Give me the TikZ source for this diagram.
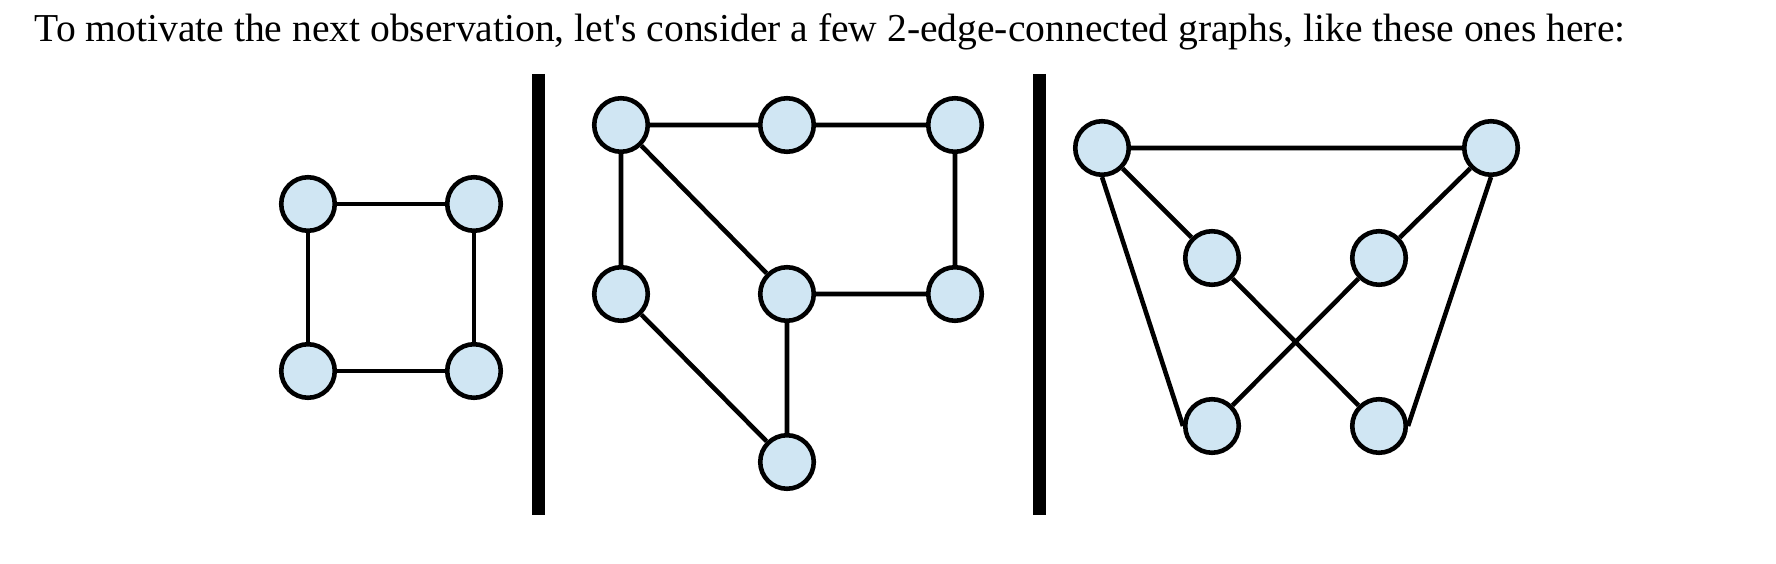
\documentclass[tikz,border=0pt]{standalone}
\usepackage{fontspec}
\setmainfont{Liberation Serif}
\usepackage{tikz}
\definecolor{pale blue}{RGB}{208, 230, 243}

\begin{document}
\begin{tikzpicture}[x = 0.01cm, y = -0.01cm,
		vertex/.style = {circle, draw, fill = pale blue, line width = 1.3pt,
			inner sep = 0pt, minimum size = 0.535cm},
		divider/.style = {line width = 3.7pt}]
		\useasboundingbox (0, 0) rectangle (1776, 564);
		% caption
		\node (caption) [anchor = base west, inner sep = 0pt, font = \fontsize{11.25}{13.5}\selectfont]
			at (34, 42) {To motivate the next observation, let\textquotesingle s consider a few 2-edge-connected graphs, like these ones here:};
		% square
		\node[vertex] (a1) at (308, 204) {};
		\node[vertex] (a2) at (474, 204) {};
		\node[vertex] (a3) at (308, 371) {};
		\node[vertex] (a4) at (474, 371) {};
		\draw[line width = 1.3pt]
			(a1) -- (a2) (a3) -- (a4)
			(a1) -- (a3) (a2) -- (a4);
		% dividers
		\coordinate (d1top) at (538.5, 74);
		\coordinate (d1bot) at (538.5, 515);
		\coordinate (d2top) at (1039, 74);
		\coordinate (d2bot) at (1039, 515);
		\draw[divider] (d1top) -- (d1bot);
		\draw[divider] (d2top) -- (d2bot);
		% middle graph
		\node[vertex] (b1) at (621, 125) {};
		\node[vertex] (b2) at (787, 125) {};
		\node[vertex] (b3) at (955, 125) {};
		\node[vertex] (b4) at (621, 294) {};
		\node[vertex] (b5) at (787, 294) {};
		\node[vertex] (b6) at (955, 294) {};
		\node[vertex] (b7) at (787, 462) {};
		\draw[line width = 1.3pt]
			(b1) -- (b2) (b2) -- (b3)
			(b1) -- (b4) (b1) -- (b5)
			(b3) -- (b6) (b5) -- (b6)
			(b4) -- (b7) (b5) -- (b7);
		% right graph
		\node[vertex] (c1) at (1102, 148) {};
		\node[vertex] (c2) at (1491, 148) {};
		\node[vertex] (c3) at (1212, 258) {};
		\node[vertex] (c4) at (1379, 258) {};
		\node[vertex] (c5) at (1212, 426) {};
		\node[vertex] (c6) at (1379, 426) {};
		\draw[line width = 1.3pt]
			(c1) -- (c2)
			(c1) -- (c3) (c1.south) -- (c5.west)
			(c2) -- (c4) (c2.south) -- (c6.east)
			(c3) -- (c6) (c4) -- (c5);
	\end{tikzpicture}
\end{document}
